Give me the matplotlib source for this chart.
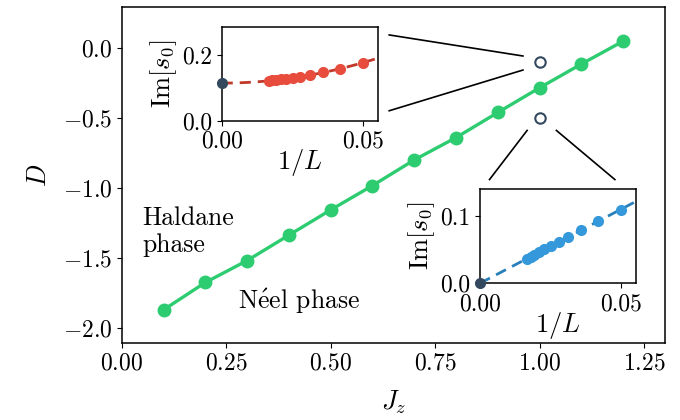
import numpy as np
import matplotlib
matplotlib.use("Agg")
import matplotlib.pyplot as plt

plt.rcParams['font.family'] = 'serif'
plt.rcParams['font.serif'] = ['cmr10']
plt.rcParams['mathtext.fontset'] = 'cm'
plt.rcParams['axes.formatter.use_mathtext'] = True
plt.rcParams['font.size'] = 17
plt.rcParams['axes.labelsize'] = 19
plt.rcParams['axes.linewidth'] = 1.1

green = '#2ecc71'
red = '#e74c3c'
red_dark = '#c0392b'
blue = '#3498db'
blue_dark = '#2980b9'
dark = '#34495e'

# phase boundary
jz = [0.1, 0.2, 0.3, 0.4, 0.5, 0.6, 0.7, 0.8, 0.9, 1.0, 1.1, 1.2]
d_vals = [-1.868, -1.673, -1.517, -1.336, -1.156, -0.983, -0.800, -0.641,
          -0.462, -0.286, -0.117, 0.046]

# open points that get zoomed in
open_jz = [1.0, 1.0]
open_d = [-0.10, -0.50]

# finite size data
L = np.array([20, 24, 28, 32, 36, 40, 44, 48, 52, 56, 60])
im_top = [0.176, 0.157, 0.146, 0.138, 0.133, 0.130, 0.127, 0.125, 0.123, 0.122, 0.121]
im_bot = [0.109, 0.092, 0.079, 0.069, 0.061, 0.055, 0.050, 0.046, 0.042, 0.039, 0.0365]

# connector lines (x0, x1), (y0, y1)
connectors = [
    ((0.64, 0.96), (0.09, -0.06)),
    ((0.64, 0.96), (-0.45, -0.16)),
    ((0.97, 0.88), (-0.59, -0.94)),
    ((1.04, 1.18), (-0.59, -0.94)),
]

fig = plt.figure(figsize=(6.8, 4.2), dpi=100)
ax = fig.add_axes([0.179, 0.183, 0.799, 0.8])

ax.plot(jz, d_vals, '-o', color=green, lw=2.4, ms=9)
ax.plot(open_jz, open_d, 'o', mfc='white', mec=dark, mew=1.5, ms=7.5)
for xs, ys in connectors:
    ax.plot(xs, ys, color='black', lw=1.2)

ax.set_xlim(0, 1.3)
ax.set_ylim(-2.105, 0.288)
ax.set_xticks([0.0, 0.25, 0.5, 0.75, 1.0, 1.25])
ax.set_yticks([-2.0, -1.5, -1.0, -0.5, 0.0])
ax.set_xlabel(r'$J_z$', labelpad=10)
ax.set_ylabel(r'$D$', labelpad=8)
ax.text(0.05, -1.13, 'Haldane\nphase', ha='left', va='top', linespacing=1.2, fontsize=18.5)
ax.text(0.425, -1.81, r'N$\acute{\mathrm{e}}$el phase', ha='center', va='center', fontsize=18.5)

inv = 1.0 / L
xfit = np.linspace(0, 0.056, 100)


def inset(rect, y, color, line_color, deg, ylim, yticks):
    a = fig.add_axes(rect)
    c = np.polyfit(inv, y, deg)
    a.plot(xfit, np.polyval(c, xfit), '--', color=line_color, lw=2, dashes=(4, 2.5))
    a.plot(inv, y, 'o', color=color, ms=7)
    a.plot([0], [np.polyval(c, 0)], 'o', color=dark, ms=7, clip_on=False, zorder=5)
    a.set_xlim(0, 0.0552)
    a.set_ylim(*ylim)
    a.set_xticks([0.0, 0.05])
    a.set_xticklabels(['0.00', '0.05'])
    a.set_yticks(yticks)
    a.set_yticklabels(['%.1f' % t for t in yticks])
    a.set_xlabel(r'$1/L$', labelpad=-4)
    a.set_ylabel(r'$\mathrm{Im}[s_0]$', labelpad=2)
    return a


inset([0.326, 0.712, 0.230, 0.2245], im_top, red, red_dark, 2, (0, 0.284), [0.0, 0.2])
inset([0.706, 0.3255, 0.2294, 0.2245], im_bot, blue, blue_dark, 1, (0, 0.1395), [0.0, 0.1])

fig.savefig('out.png', dpi=100)
